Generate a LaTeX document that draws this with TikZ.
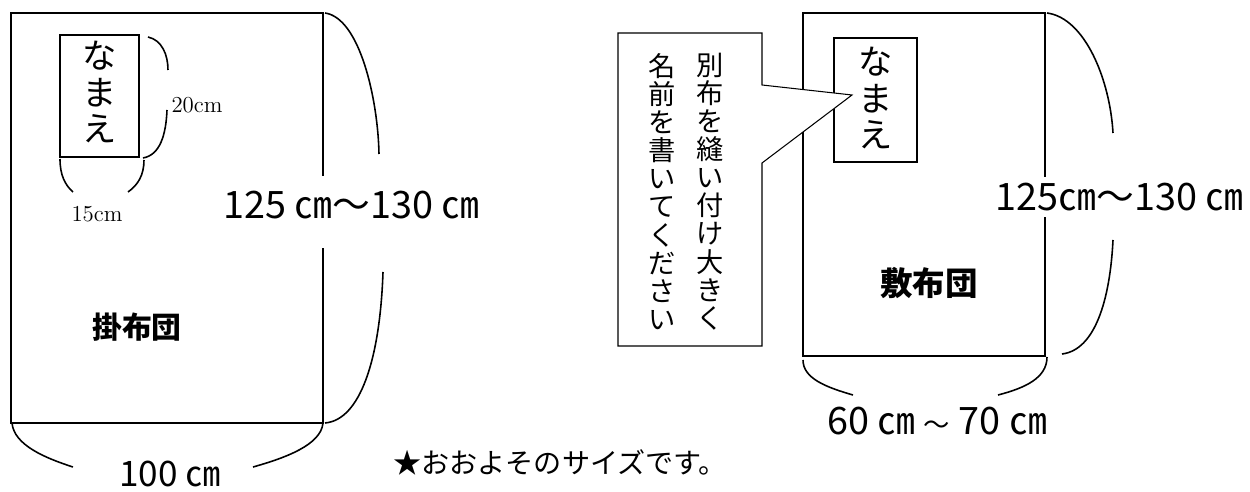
\documentclass[tikz,border=0pt]{standalone}
\usepackage{fontspec}
\newfontfamily\jp{Noto Sans CJK JP}
\usetikzlibrary{calc}

\tikzset{
  futon/.style={line width=1pt},
  brace/.style={line width=0.9pt},
  sizelabel/.style={font=\jp\fontsize{21.5}{24}\selectfont, inner sep=0pt},
  smalllabel/.style={font=\fontsize{13}{15}\selectfont, inner sep=0pt},
  tate/.style={align=center, inner sep=0pt},
}

\begin{document}
\begin{tikzpicture}[x=0.02cm,y=-0.02cm]
\useasboundingbox (0,0) rectangle (1250,492);

% Draw kakebuton
\draw[futon] (323,176) -- (323,13) -- (11,13) -- (11,423) -- (323,423) -- (323,248);
\node (kake) [font=\jp\bfseries\fontsize{17}{20}\selectfont] at (137,327) {掛布団};

% name tag on kakebuton
\draw[futon] (60,35) rectangle (139,157);
\node (namae1) [tate, font=\jp\fontsize{19.5}{20.5}\selectfont] at (99.5,92) {な\\ま\\え};

\draw[brace] (148,37) .. controls (162,40) and (168,55) .. (168,70);
\draw[brace] (167,110) .. controls (166,135) and (160,155) .. (143,158);
\node (tag20) [smalllabel] at (197,105) {20cm};

\draw[brace] (60,159) .. controls (60,175) and (65,185) .. (73,192);
\draw[brace] (144,160) .. controls (144,175) and (138,185) .. (128,192);
\node (tag15) [smalllabel] at (97,214) {15cm};

% sizes of kakebuton
\draw[brace] (325,13) .. controls (360,18) and (378,100) .. (379,154);
\draw[brace] (383,272) .. controls (380,360) and (360,420) .. (325,423);
\node (kakeH) [sizelabel] at (351.5,205) {125 ㎝～130 ㎝};

\draw[brace] (12,423) .. controls (14,445) and (45,458) .. (73,467);
\draw[brace] (323,423) .. controls (321,445) and (285,458) .. (253,467);
\node (kakeW) [font=\jp\fontsize{20}{24}\selectfont, inner sep=0pt, anchor=base] at (170,487) {100 ㎝};

% Draw shikibuton
\draw[futon] (1045,177) -- (1045,13) -- (803,13) -- (803,356) -- (1045,356) -- (1045,217);
\node (shiki) [font=\jp\bfseries\fontsize{18.5}{22}\selectfont] at (929,283) {敷布団};

\draw[futon] (834,38) rectangle (917,162);
\node (namae2) [tate, font=\jp\fontsize{19.5}{20.5}\selectfont] at (875.5,98) {な\\ま\\え};

% callout
\draw[line width=0.6pt, fill=white] (618,33) -- (762,33) -- (762,85) -- (852,95)
    -- (762,163) -- (762,346) -- (618,346) -- cycle;
\node (memo1) [tate, font=\jp\fontsize{15.5}{16}\selectfont] at (710,191.5)
    {別\\布\\を\\縫\\い\\付\\け\\大\\き\\く};
\node (memo2) [tate, font=\jp\fontsize{15.5}{16}\selectfont] at (662,191.5)
    {名\\前\\を\\書\\い\\て\\く\\だ\\さ\\い};

% sizes of shikibuton
\draw[brace] (1047,13) .. controls (1085,18) and (1110,80) .. (1113,133);
\draw[brace] (1113,240) .. controls (1110,300) and (1095,350) .. (1062,354);
\node (shikiH) [sizelabel] at (1119.5,197) {125㎝～130 ㎝};

\draw[brace] (803,360) .. controls (803,378) and (825,387) .. (853,395);
\draw[brace] (1047,357) .. controls (1047,378) and (1025,388) .. (998,395);
\node (shikiW) [sizelabel] at (937,421) {60 ㎝ {\fontsize{15}{15}\selectfont ～} 70 ㎝};

% note
\node (note) [font=\jp\fontsize{16}{18}\selectfont, inner sep=0pt, anchor=west] at (393,462) {★おおよそのサイズです。};

\end{tikzpicture}
\end{document}
